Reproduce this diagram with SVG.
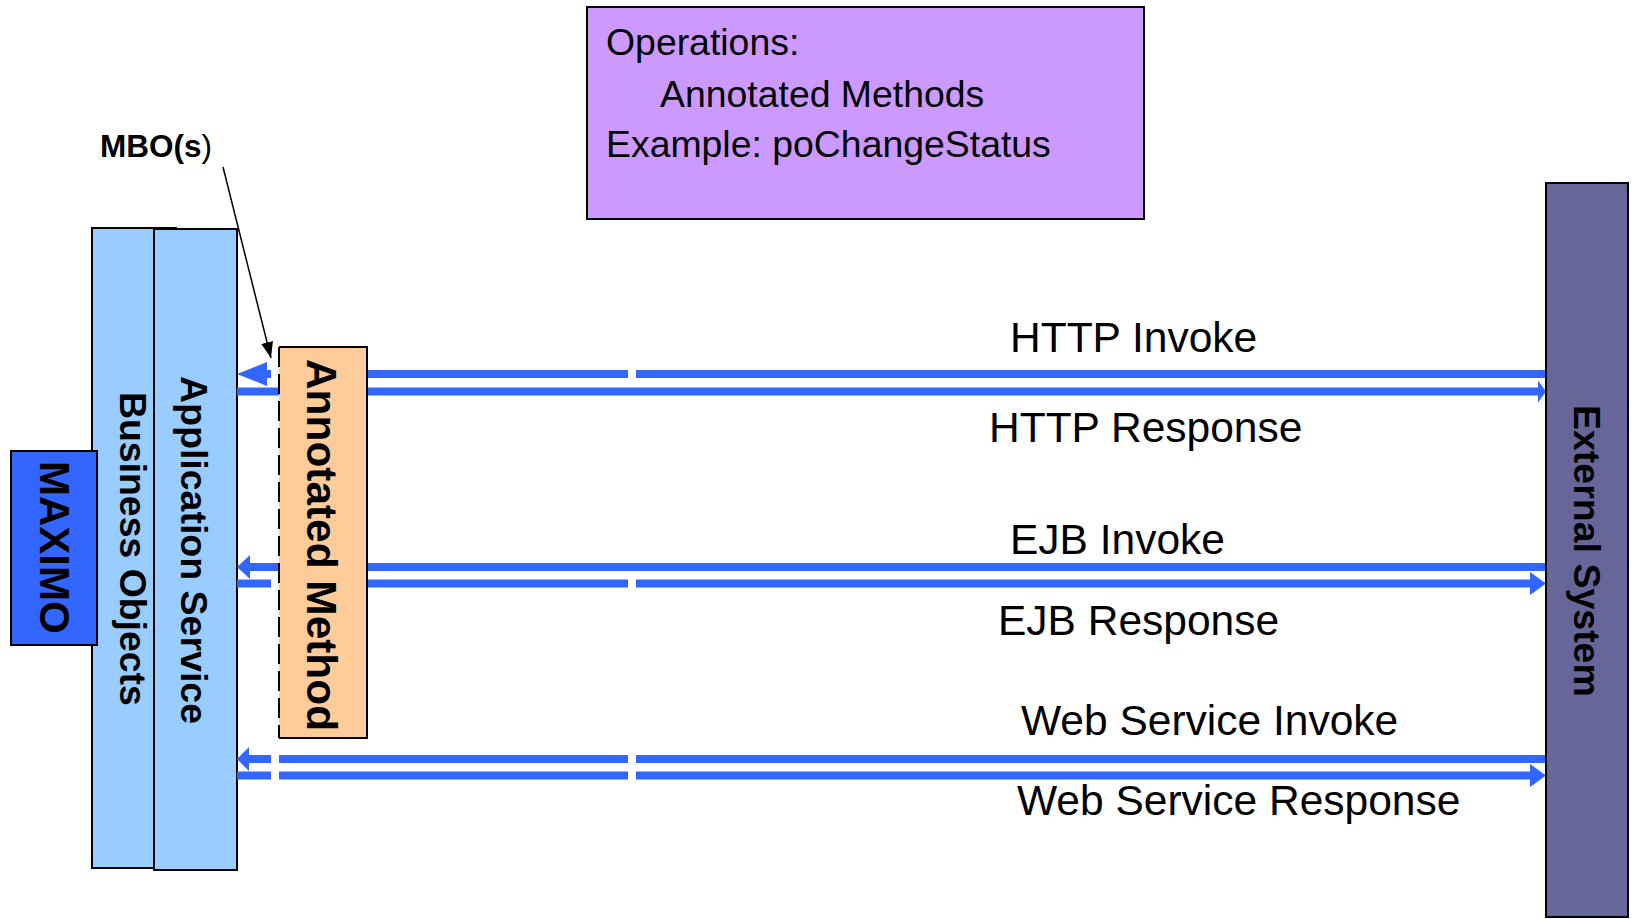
<svg xmlns="http://www.w3.org/2000/svg" width="1634" height="919" viewBox="0 0 1634 919">
<style>
.t{font-family:"Liberation Sans",Arial,Helvetica,sans-serif;fill:#000}
.b{font-weight:bold}
.box{stroke:#000;stroke-width:2}
.ln{stroke:#3366FF;stroke-width:8;fill:none}
.ah{fill:#3366FF}
.lbl{font-size:42.5px}
.op{font-size:37.4px}
</style>
<defs>
<marker id="blk" markerUnits="userSpaceOnUse" markerWidth="18" markerHeight="14" refX="16" refY="6" orient="auto">
<path d="M0,0 L16,6 L0,12 z" fill="#000"/>
</marker>
</defs>
<rect width="1634" height="919" fill="#fff"/>

<g id="business-objects">
<rect class="box" x="92" y="228" width="84" height="640" fill="#99CCFF"/>
<text class="t b" font-size="37.4" transform="translate(120,392) rotate(90)">Business Objects</text>
</g>
<g id="application-service">
<rect class="box" x="154" y="229" width="83" height="641" fill="#99CCFF"/>
<text class="t b" font-size="37.5" transform="translate(181,376) rotate(90)">Application Service</text>
</g>
<g id="maximo">
<rect class="box" x="11" y="451" width="86" height="194" fill="#3366FF"/>
<text class="t b" font-size="42" transform="translate(40,461) rotate(90)">MAXIMO</text>
</g>

<g id="connectors">
<path class="ln" d="M267 374 H271 M367 374 H628 M636 374 H1546"/>
<polygon class="ah" points="237,374 267,362 267,386"/>
<path class="ln" d="M237 391.5 H1538"/>
<polygon class="ah" points="1546,391.5 1538,380.5 1538,402.5"/>

<path class="ln" d="M250 567 H1546"/>
<polygon class="ah" points="237,567 250,555 250,579"/>
<path class="ln" d="M237 583.5 H271 M367 583.5 H628 M636 583.5 H1530"/>
<polygon class="ah" points="1546,583.5 1530,572 1530,595"/>

<path class="ln" d="M249 759 H271 M279 759 H628 M636 759 H1546"/>
<polygon class="ah" points="237,759 249,747 249,771"/>
<path class="ln" d="M237 775.5 H271 M279 775.5 H628 M636 775.5 H1530"/>
<polygon class="ah" points="1546,775.5 1530,764 1530,787"/>

<line x1="223" y1="167" x2="271" y2="358" stroke="#000" stroke-width="1.5" marker-end="url(#blk)"/>
</g>

<g id="annotated-method">
<rect x="279" y="347" width="88" height="391" fill="#FFCC99"/>
<path d="M279 347 H367 V738 H279" fill="none" stroke="#000" stroke-width="2"/>
<line x1="279" y1="347" x2="279" y2="738" stroke="#000" stroke-width="2" stroke-dasharray="20 7"/>
<text class="t b" font-size="42.4" transform="translate(307,359) rotate(90)">Annotated Method</text>
</g>

<g id="external-system">
<rect class="box" x="1546" y="183" width="82" height="734" fill="#666699"/>
<text class="t b" font-size="37.5" transform="translate(1574,405) rotate(90)">External System</text>
</g>

<g id="operations">
<rect class="box" x="587" y="7" width="557" height="212" fill="#CC99FF"/>
<text class="t op" x="606" y="55">Operations:</text>
<text class="t op" x="660" y="107">Annotated Methods</text>
<text class="t op" x="606" y="157">Example: poChangeStatus</text>
</g>

<g id="mbo-label">
<text class="t b" font-size="31.5" x="100" y="157">MBO(s<tspan font-weight="normal">)</tspan></text>
</g>

<g id="labels">
<text class="t lbl" x="1010" y="352">HTTP Invoke</text>
<text class="t lbl" x="989" y="442">HTTP Response</text>
<text class="t lbl" x="1010" y="554">EJB Invoke</text>
<text class="t lbl" x="998" y="635">EJB Response</text>
<text class="t lbl" x="1021" y="735">Web Service Invoke</text>
<text class="t lbl" x="1017" y="815">Web Service Response</text>
</g>
</svg>
